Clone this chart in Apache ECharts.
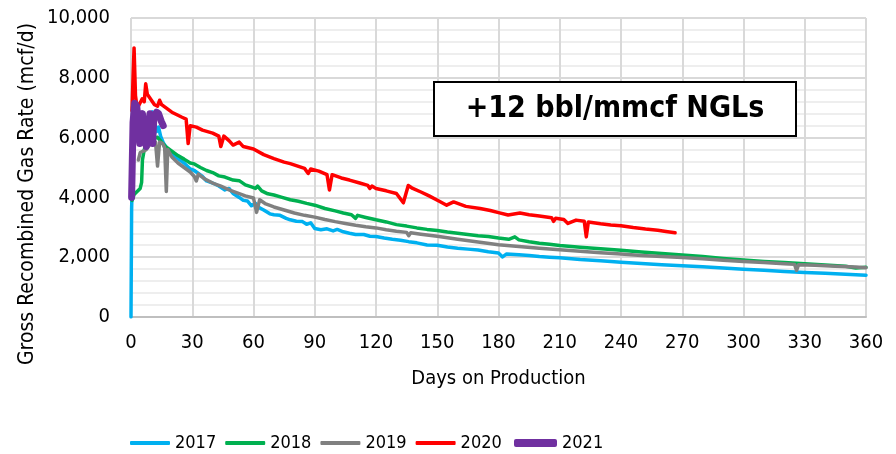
<!DOCTYPE html>
<html>
<head>
<meta charset="utf-8">
<script src="https://cdn.jsdelivr.net/npm/echarts@6/dist/echarts.min.js"></script>
<style>
  html, body { margin: 0; padding: 0; background: #fff; }
  #chart { width: 896px; height: 454px; }
</style>
</head>
<body>
<div id="chart"></div>
<script>
// days on production vs gross recombined gas rate (mcf/d)
const years = ['2017', '2018', '2019', '2020', '2021'];
const colors = ['#00b0f0', '#00b050', '#808080', '#ff0000', '#7030a0'];

const rate2017 = [
  [0,0],[0.3,3600],[1,5600],[2,6100],[3.5,6300],[5,6500],[7,6600],[9,6700],[10.5,6860],[11.5,6500],
  [12.5,6200],[13.5,6350],[14.5,6050],[16,5800],[18,5600],[20,5450],[23,5300],[26,5150],[29,4950],
  [31,4900],[33,4800],[35,4700],[37,4550],[40,4480],[43,4380],[46,4250],[48,4300],[50,4130],[53,4000],
  [55,3900],[57,3880],[59,3720],[61,3800],[63,3650],[65,3580],[68,3450],[70,3420],[73,3400],[76,3300],
  [78,3250],[81,3200],[84,3190],[86,3100],[88,3150],[90,2960],[93,2920],[96,2950],[99,2880],[101,2930],
  [104,2850],[107,2800],[110,2760],[114,2760],[117,2700],[120,2690],[124,2640],[128,2600],[132,2570],
  [136,2520],[140,2480],[145,2410],[150,2400],[155,2340],[160,2300],[165,2270],[170,2240],[175,2180],
  [180,2140],[182,2010],[184,2110],[190,2080],[195,2060],[200,2020],[205,2000],[210,1980],[220,1920],
  [230,1880],[240,1830],[250,1790],[260,1750],[270,1710],[280,1680],[290,1640],[300,1600],[310,1560],
  [320,1520],[330,1490],[340,1460],[350,1430],[360,1400]
];
const rate2018 = [
  [0.5,3900],[1.5,4100],[3,4200],[4.5,4300],[5.2,4500],[5.6,5250],[6.5,5600],[7.7,5850],[9,5950],
  [11,5980],[13,6010],[15,5850],[17,5700],[20,5550],[23,5400],[26,5280],[29,5150],[31,5120],[34,5000],
  [37,4900],[40,4830],[43,4720],[46,4680],[50,4580],[53,4560],[56,4420],[59,4350],[61,4300],[62,4380],
  [64,4220],[67,4120],[70,4080],[74,4000],[78,3920],[82,3870],[86,3800],[90,3740],[95,3630],[100,3550],
  [104,3480],[108,3420],[110,3300],[111,3400],[115,3330],[120,3250],[125,3180],[130,3090],[135,3040],
  [140,2980],[145,2930],[150,2890],[155,2840],[160,2800],[165,2760],[170,2720],[175,2690],[180,2640],
  [185,2600],[188,2680],[190,2580],[195,2520],[200,2470],[205,2430],[210,2390],[220,2330],[230,2280],
  [240,2230],[250,2170],[260,2120],[270,2070],[280,2020],[290,1960],[300,1910],[310,1860],[320,1820],
  [330,1780],[340,1740],[350,1700],[355,1640],[360,1660]
];
const rate2019 = [
  [3.6,5250],[4.5,5500],[6,5550],[7.5,5600],[9,5750],[10.5,5900],[12,5850],[13,5050],[14,5850],
  [15.5,5800],[16.5,5650],[17.3,4200],[18,5600],[20,5350],[23,5150],[26,5000],[29,4850],[31,4700],
  [32,4550],[33,4780],[36,4620],[40,4480],[44,4380],[48,4250],[52,4150],[56,4050],[60,3980],[61.5,3500],
  [63,3920],[66,3780],[70,3680],[75,3580],[80,3480],[85,3400],[90,3340],[95,3260],[100,3190],[105,3130],
  [110,3070],[115,3020],[120,2980],[125,2920],[130,2870],[135,2830],[136,2720],[137,2820],[142,2770],
  [150,2700],[160,2600],[170,2510],[180,2420],[190,2360],[200,2300],[210,2250],[220,2200],[230,2150],
  [240,2110],[250,2060],[260,2020],[270,1990],[280,1950],[290,1900],[300,1860],[310,1820],[320,1780],
  [325,1760],[326,1560],[327,1750],[335,1730],[345,1700],[355,1670],[360,1650]
];
const rate2020 = [
  [0.5,6900],[1,8000],[1.5,9000],[2.2,7400],[3,7000],[4,7100],[5.5,7300],[6.5,7200],[7.2,7800],[8,7450],
  [9,7350],[10,7250],[11.5,7100],[13,7050],[14,7250],[15,7100],[17,7000],[20,6850],[22,6780],[25,6680],
  [27,6620],[28,5800],[29,6400],[32,6350],[35,6250],[40,6150],[43,6050],[44,5700],[45.5,6050],[48,5900],
  [50,5750],[53,5850],[55,5700],[60,5620],[65,5430],[70,5300],[75,5180],[78,5130],[85,4970],[86.8,4800],
  [88,4950],[92,4880],[96,4760],[97.2,4250],[98.5,4760],[103,4650],[107,4580],[112,4480],[116,4400],
  [117,4300],[118,4380],[120,4300],[125,4220],[130,4130],[133.4,3820],[135.8,4400],[138,4300],[142,4180],
  [146,4050],[151,3870],[154.6,3740],[158,3850],[164,3700],[171,3630],[176,3560],[180,3490],[184.7,3410],
  [190.5,3480],[195,3420],[200,3380],[206,3320],[207,3200],[208,3300],[212,3260],[214,3130],[218,3240],
  [222,3200],[223,2680],[224,3180],[230,3120],[235,3080],[240,3050],[246,2990],[252,2940],[258,2900],
  [262,2860],[266.5,2820]
];
const rate2021 = [
  [0.3,4000],[1,6500],[1.8,7150],[2.8,7050],[3.5,6600],[4.3,5800],[5,6700],[5.6,6800],[6.5,6200],
  [7.5,5700],[8.5,6300],[9.3,6800],[10,6300],[10.6,5800],[11.2,6700],[12.5,6850],[13.5,6800],
  [14.8,6550],[15.8,6400]
];
const allRates = [rate2017, rate2018, rate2019, rate2020, rate2021];
const lineWidths = [3.5, 3.5, 3.5, 3.5, 7];

const FONT = '"DejaVu Sans Condensed", "DejaVu Sans", sans-serif';
const GRID = { major: '#d9d9d9', minor: '#eeeeee', axis: '#bfbfbf' };

const legendText = { color: '#000', fontFamily: FONT, fontSize: 18 };

const chart = echarts.init(document.getElementById('chart'), null, { renderer: 'canvas' });

chart.setOption({
  backgroundColor: '#fff',
  animation: false,
  grid: { left: 131, right: 30, top: 18, bottom: 137 },
  xAxis: {
    type: 'value', min: 0, max: 360, interval: 30,
    name: 'Days on Production', nameLocation: 'middle', nameGap: 52,
    nameTextStyle: { color: '#000', fontFamily: FONT, fontSize: 20 },
    axisLine: { show: true, lineStyle: { color: GRID.axis, width: 2 } },
    axisTick: { show: false },
    axisLabel: { color: '#000', fontFamily: FONT, fontSize: 20, margin: 16 },
    splitLine: { show: true, lineStyle: { color: GRID.major, width: 2 } },
  },
  yAxis: {
    type: 'value', min: 0, max: 10000, interval: 2000,
    axisLine: { show: false },
    axisTick: { show: false },
    axisLabel: {
      color: '#000', fontFamily: FONT, fontSize: 20, margin: 21,
      formatter: (v) => v.toLocaleString('en-US'),
    },
    splitLine: { show: true, lineStyle: { color: GRID.major, width: 2 } },
    minorTick: { show: false, splitNumber: 5 },
    minorSplitLine: { show: true, lineStyle: { color: GRID.minor, width: 2 } },
  },
  // two legends so the 2021 swatch can be drawn thicker, as in the original
  legend: [
    {
      left: 130, top: 434, padding: 0, icon: 'roundRect',
      itemWidth: 40, itemHeight: 4, itemGap: 9,
      textStyle: legendText,
      data: years.slice(0, 4),
    },
    {
      left: 514, top: 434, padding: 0, icon: 'roundRect',
      itemWidth: 43, itemHeight: 8,
      textStyle: legendText,
      data: years.slice(4),
    },
  ],
  graphic: [
    {
      type: 'text', x: 28, y: 194, rotation: Math.PI / 2,
      style: {
        text: 'Gross Recombined Gas Rate (mcf/d)', fill: '#000',
        font: '21px ' + FONT, textAlign: 'center', textVerticalAlign: 'middle',
      },
    },
    {
      type: 'rect', shape: { x: 434, y: 82, width: 362, height: 54 },
      style: { fill: '#fff', stroke: '#000', lineWidth: 2 }, z: 10,
    },
    {
      type: 'text', x: 615, y: 109, z: 11,
      style: {
        text: '+12 bbl/mmcf NGLs', fill: '#000',
        font: 'bold 30px ' + FONT, textAlign: 'center', textVerticalAlign: 'middle',
      },
    },
  ],
  series: years.map((y, i) => ({
    name: y,
    type: 'line',
    data: allRates[i],
    symbol: 'none',
    color: colors[i],
    lineStyle: { color: colors[i], width: lineWidths[i], cap: 'round', join: 'round' },
  })),
});
</script>
</body>
</html>
